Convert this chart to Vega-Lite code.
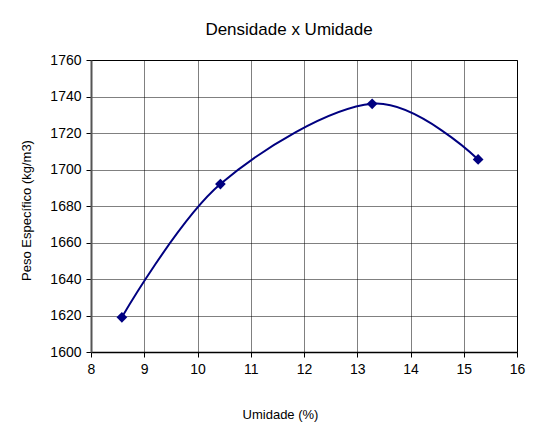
{
  "$schema": "https://vega.github.io/schema/vega-lite/v6.json",
  "width": 426,
  "height": 292,
  "autosize": "none",
  "padding": {"left": 91, "top": 60, "right": 40, "bottom": 75},
  "background": "white",
  "title": {"text": "Densidade x Umidade", "font": "Liberation Sans", "fontSize": 17, "fontWeight": "normal", "color": "black", "anchor": "middle", "dx": -15, "offset": 14},
  "config": {
    "view": {"stroke": "black", "strokeWidth": 1},
    "axis": {
      "labelFont": "Liberation Sans", "labelFontSize": 14, "labelColor": "black",
      "titleFont": "Liberation Sans", "titleFontSize": 13, "titleFontWeight": "normal", "titleColor": "black",
      "gridColor": "black", "gridDash": [1, 1], "gridWidth": 1, "gridOpacity": 1,
      "domainColor": "black", "domainWidth": 1.5, "tickColor": "black", "tickSize": 5
    }
  },
  "data": {"values": [
    {"umidade": 8.58, "peso": 1619},
    {"umidade": 10.43, "peso": 1692},
    {"umidade": 13.28, "peso": 1736},
    {"umidade": 15.27, "peso": 1705.5}
  ]},
  "encoding": {
    "x": {"field": "umidade", "type": "quantitative", "scale": {"domain": [8, 16], "nice": false},
      "axis": {"title": "Umidade (%)", "values": [8, 9, 10, 11, 12, 13, 14, 15, 16], "format": "d", "labelPadding": 5, "titleX": 189, "titleY": 56, "labelFlush": false}},
    "y": {"field": "peso", "type": "quantitative", "scale": {"domain": [1600, 1760], "nice": false, "zero": false},
      "axis": {"title": "Peso Específico (kg/m3)", "values": [1600, 1620, 1640, 1660, 1680, 1700, 1720, 1740, 1760], "format": "d", "labelPadding": 5, "titleX": -58, "titleY": 150, "domainColor": "#555", "domainWidth": 2, "labelFlush": false}}
  },
  "layer": [
    {"mark": {"type": "line", "interpolate": "cardinal", "tension": 0, "color": "#000080", "strokeWidth": 2}},
    {"mark": {"type": "point", "shape": "diamond", "filled": true, "size": 115, "color": "#000080", "opacity": 1}}
  ]
}
